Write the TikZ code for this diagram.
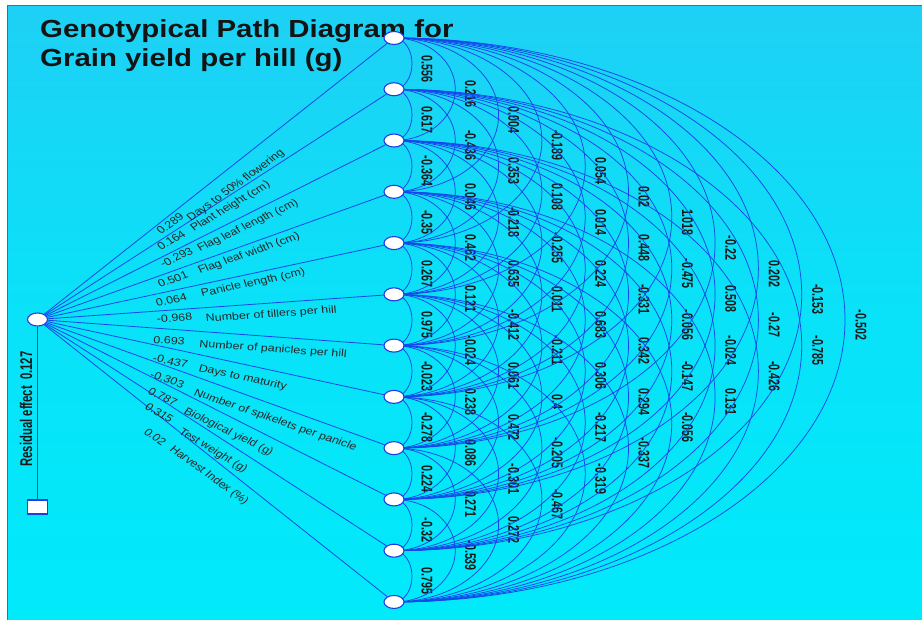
\documentclass[tikz,border=0pt]{standalone}
\usepackage{fontspec}
\setmainfont{Liberation Sans}
\usetikzlibrary{shapes.geometric}
\definecolor{bgtop}{RGB}{30,208,245}
\definecolor{bgbot}{RGB}{0,234,250}
\definecolor{linkblue}{RGB}{20,70,235}
\definecolor{nodeblue}{RGB}{30,60,230}
\pgfdeclarelayer{bg}\pgfdeclarelayer{arcs}
\pgfsetlayers{bg,arcs,main}
\tikzset{
 vnode/.style={ellipse, draw=nodeblue, line width=1.1pt, fill=white, minimum width=20pt, minimum height=13pt, inner sep=0pt},
 sqnode/.style={rectangle, draw=nodeblue, line width=1.1pt, fill=white, minimum width=20pt, minimum height=14pt, inner sep=0pt},
 conn/.style={draw=linkblue, line width=0.8pt},
 arcline/.style={draw=linkblue, line width=0.75pt},
 numlab/.style={font=\bfseries\fontsize{10.7}{11}\selectfont, text=black!90, inner sep=0pt, xscale=1.45, rotate=-90},
 pathlab/.style={font=\fontsize{10.4}{11}\selectfont, text=black!85, inner sep=0pt, anchor=base west},
 titlelab/.style={font=\bfseries\fontsize{24.7}{26}\selectfont, text=black!92, inner sep=0pt, anchor=base west, xscale=1.19},
}
\begin{document}
\begin{tikzpicture}[x=1pt,y=1pt]
\useasboundingbox (0,0) rectangle (922,620);
\begin{pgfonlayer}{bg}
\fill[white] (0,0) rectangle (922,620);
\shade[top color=bgtop, bottom color=bgbot, middle color=bgbot!70!bgtop] (8,0) rectangle (922,614);
\draw[black!60, line width=1pt] (7.5,0) -- (7.5,614.5) -- (922,614.5);
\node[titlelab] (t1) at (40,582.3) {Genotypical Path Diagram for};
\node[titlelab] (t2) at (40,553) {Grain yield per hill (g)};
\end{pgfonlayer}

\foreach \i in {0,...,11} \node[vnode] (n\i) at (394,{582-51.27*\i}) {};
\node[vnode] (L) at (37.5,300.5) {};
\node[sqnode] (Rsq) at (37.5,113) {};

\begin{pgfonlayer}{arcs}
\foreach \i in {0,...,11} \draw[conn] (L) -- (n\i);
\draw[conn] (L) -- (Rsq);
\foreach \d/\vals in {
 1/{0.556,0.617,-0.364,-0.35,0.267,0.975,-0.023,-0.278,0.224,-0.32,0.795},
 2/{0.216,-0.436,0.046,0.462,0.121,-0.024,0.238,0.086,0.271,-0.539},
 3/{0.004,0.353,-0.218,0.635,-0.412,0.061,0.472,-0.301,0.272},
 4/{-0.189,0.108,-0.255,0.011,-0.211,0.4,-0.205,-0.467},
 5/{0.054,0.014,0.224,0.683,0.306,-0.217,-0.319},
 6/{0.02,0.448,-0.331,0.342,0.294,-0.337},
 7/{1.018,-0.475,-0.056,-0.147,-0.056},
 8/{-0.22,0.508,-0.024,0.131},
 9/{0.202,-0.27,-0.426},
 10/{-0.153,-0.785},
 11/{-0.502}} {
  \pgfmathsetmacro\h{25.635*\d}
  \pgfmathsetmacro\s{18+43.3*(\d-1)}
  \pgfmathsetmacro\lx{427+43.4*(\d-1)}
  \foreach \v [count=\k from 0] in \vals {
    \draw[arcline] (n\k.center) arc[start angle=90, end angle=-90, x radius=\s pt, y radius=\h pt];
    \node[numlab] (lab\d-\k) at (\lx,{582-51.27*(\k+\d/2)-5}) {\v};
  }
}
\end{pgfonlayer}

\foreach \nx/\ny/\mx/\my/\a/\num/\name [count=\c] in {
 161/235/191/222/36/0.289/Days to 50\% flowering,
 161/251/194/232/31/0.164/Plant height (cm),
 163/268/200/252/25.5/-0.293/Flag leaf length (cm),
 160/288/200/274/19.5/0.501/Flag leaf width (cm),
 157/307/202/297/12/0.064/Panicle length (cm),
 157/323/206/322/4/-0.968/Number of tillers per hill,
 153/343/199/347/-4/0.693/Number of panicles per hill,
 152/361/198/371/-12/-0.437/Days to maturity,
 149/377/193/395/-19/-0.303/Number of spikelets per panicle,
 147/393/183/413/-26/0.787/Biological  yield (g),
 144/408/178/433/-31/0.315/Test weight (g),
 143/433/169/450/-36/0.02/Harvest Index (\%)} {
  \pgfmathsetmacro\ao{atan(1.2*tan(\a))}
  \node[pathlab, xscale=1.2, rotate=\ao] (pn\c) at (\nx,{620-\ny}) {\num};
  \node[pathlab, xscale=1.2, rotate=\ao] (pm\c) at (\mx,{620-\my}) {\name};
}

\node[font=\bfseries\fontsize{11.3}{12}\selectfont, text=black!90, inner sep=0pt, xscale=1.5, rotate=90] (res) at (26,211) {Residual effect\ \ 0.127};
\end{tikzpicture}
\end{document}
